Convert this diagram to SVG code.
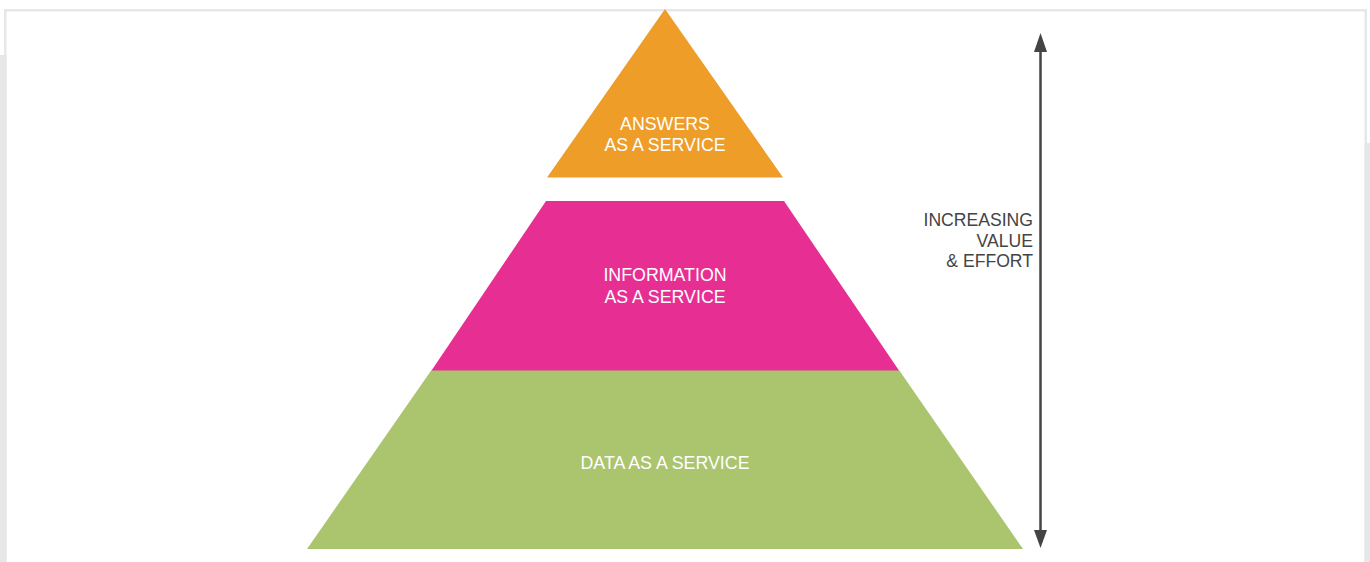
<svg xmlns="http://www.w3.org/2000/svg" width="1370" height="562" viewBox="0 0 1370 562">
<defs>
<style>
.lbl{font-family:"Liberation Sans",Arial,Helvetica,sans-serif;font-size:17.8px;fill:#ffffff;text-anchor:middle}
.side{font-family:"Liberation Sans",Arial,Helvetica,sans-serif;font-size:17.6px;fill:#444444;text-anchor:end}
.frame{fill:#e7e7e8}
.arrow{fill:#444444}
</style>
</defs>
<rect width="1370" height="562" fill="#ffffff"/>
<g id="frame">
<rect class="frame" x="4" y="9" width="1363" height="2.5"/>
<rect class="frame" x="4" y="9" width="2.5" height="553"/>
<rect class="frame" x="0" y="55" width="6.5" height="507"/>
<rect class="frame" x="1364.5" y="9" width="2.5" height="553"/>
<rect class="frame" x="1364.5" y="143" width="5.5" height="419"/>
</g>
<g id="data">
<polygon points="431.5,370 899,370 1023,549 307,549" fill="#abc56e"/>
<text class="lbl" x="665" y="469">DATA AS A SERVICE</text>
</g>
<g id="information">
<polygon points="546,201 784,201 899,370.5 431.5,370.5" fill="#e72f93"/>
<text class="lbl" x="665" y="281">INFORMATION</text>
<text class="lbl" x="665" y="302.5">AS A SERVICE</text>
</g>
<g id="answers">
<polygon points="665,9 783,177.5 547,177.5" fill="#ee9d28"/>
<text class="lbl" x="665" y="130">ANSWERS</text>
<text class="lbl" x="665" y="151">AS A SERVICE</text>
</g>
<g id="connectors">
<line x1="1040.5" y1="50" x2="1040.5" y2="532" stroke="#444444" stroke-width="2.5"/>
<path class="arrow" d="M1040.5,33 L1047,52 L1034,52 Z"/>
<path class="arrow" d="M1040.5,548 L1047,530 L1034,530 Z"/>
</g>
<g id="axis-label">
<text class="side" x="1033" y="226">INCREASING</text>
<text class="side" x="1033" y="246.5">VALUE</text>
<text class="side" x="1033" y="267">&amp; EFFORT</text>
</g>
</svg>
